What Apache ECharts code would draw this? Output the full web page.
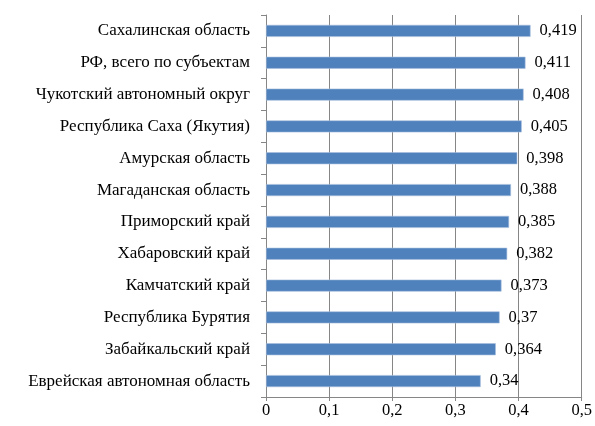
<!DOCTYPE html>
<html>
<head>
<meta charset="utf-8">
<script src="https://cdn.jsdelivr.net/npm/echarts@6/dist/echarts.min.js"></script>
<style>html,body{margin:0;padding:0;background:#fff}#c{width:595px;height:426px}</style>
</head>
<body>
<div id="c"></div>
<script>
const categories = [
  "Сахалинская область",
  "РФ, всего по субъектам",
  "Чукотский автономный округ",
  "Республика Саха (Якутия)",
  "Амурская область",
  "Магаданская область",
  "Приморский край",
  "Хабаровский край",
  "Камчатский край",
  "Республика Бурятия",
  "Забайкальский край",
  "Еврейская автономная область"
];
const values = [0.419, 0.411, 0.408, 0.405, 0.398, 0.388, 0.385, 0.382, 0.373, 0.37, 0.364, 0.34];
const xTicks = [0, 0.1, 0.2, 0.3, 0.4, 0.5];

const fmt = v => String(v).replace('.', ',');
const font = "'Liberation Serif', 'DejaVu Serif', serif";
const chart = echarts.init(document.getElementById('c'), null, {renderer: 'canvas'});
chart.setOption({
  animation: false,
  grid: {left: 266, right: 12, top: 15, bottom: 29, containLabel: false},
  xAxis: {
    type: 'value', min: 0, max: 0.5, interval: 0.1,
    axisLine: {show: true, lineStyle: {color: '#868686', width: 1}},
    axisTick: {show: true, length: 4, lineStyle: {color: '#868686'}},
    splitLine: {show: true, lineStyle: {color: '#868686', width: 1}},
    axisLabel: {
      margin: 5, color: '#000', fontFamily: font, fontSize: 16.5,
      formatter: v => { const t = xTicks.find(x => Math.abs(x - v) < 1e-9); return fmt(t === undefined ? v : t); }
    }
  },
  yAxis: {
    type: 'category', data: categories, inverse: true,
    axisLine: {show: true, lineStyle: {color: '#868686', width: 1}},
    axisTick: {show: true, length: 5, inside: false, lineStyle: {color: '#868686'}},
    axisLabel: {margin: 16, color: '#000', fontFamily: font, fontSize: 17}
  },
  series: [{
    type: 'bar', data: values, barWidth: 12,
    itemStyle: {color: '#4F81BD', borderColor: '#A7BFDE', borderWidth: 0.6},
    label: {
      show: true, position: 'right', distance: 9, color: '#000',
      fontFamily: font, fontSize: 16.5, formatter: p => fmt(p.value)
    }
  }]
});
</script>
</body>
</html>
